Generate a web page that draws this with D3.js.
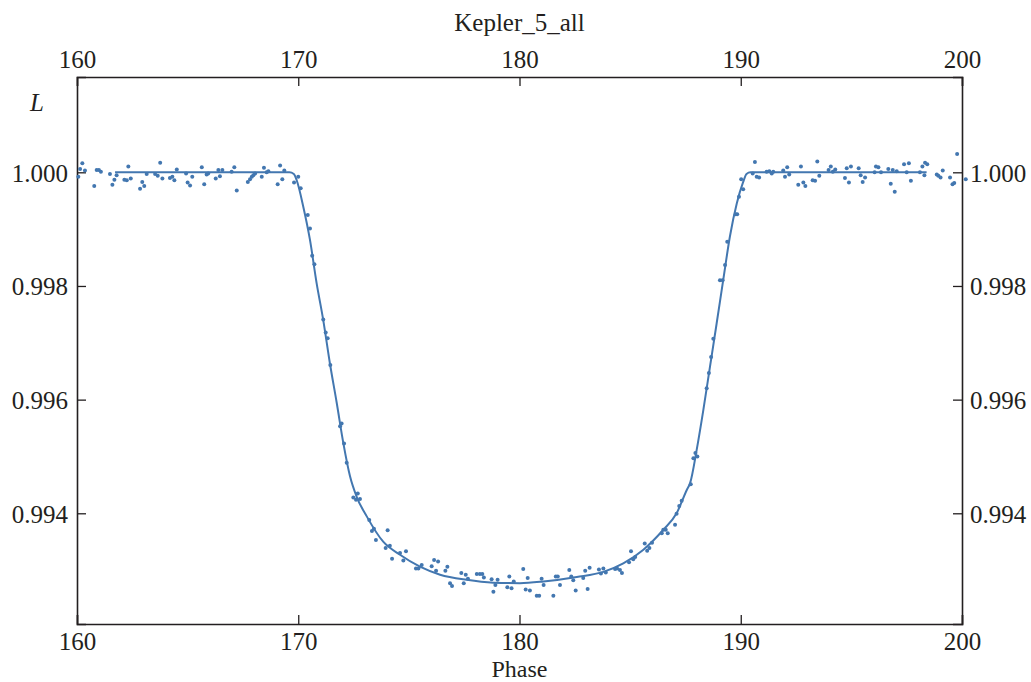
<!DOCTYPE html>
<html>
<head>
<meta charset="utf-8">
<script src="https://cdn.jsdelivr.net/npm/d3@7"></script>
<style>
  body { margin: 0; background: #fff; }
  text { font-family: "Liberation Serif", "Times New Roman", serif; fill: #231f20; }
</style>
</head>
<body>
<div id="graph"></div>
<script>
// observed light curve points [phase, L]
var obsPoints = [
  [160.06,0.99992],[160.14,1.00006],[160.24,1.00016],[160.36,1.00003],[160.78,0.99976],[160.89,1.00004],
  [160.99,1.00004],[161.08,1.00001],[161.49,0.99997],[161.60,0.99978],[161.69,0.99987],[161.79,0.99995],
  [162.14,0.99987],[162.25,0.99986],[162.32,1.00010],[162.43,0.99989],[162.85,0.99971],[162.95,0.99983],
  [163.04,0.99976],[163.15,0.99997],[163.53,0.99997],[163.65,0.99994],[163.76,1.00017],[163.86,0.99989],
  [164.20,0.99990],[164.31,0.99992],[164.40,0.99986],[164.51,1.00005],[164.93,0.99998],[165.00,0.99982],
  [165.11,0.99977],[165.21,0.99992],[165.64,1.00009],[165.75,0.99979],[165.86,0.99996],[165.93,0.99998],
  [166.27,0.99989],[166.39,1.00004],[166.46,0.99993],[166.57,1.00004],[166.99,1.00001],[167.11,1.00009],
  [167.22,0.99968],[167.72,0.99983],[167.82,0.99988],[167.90,0.99992],[167.97,0.99995],[168.05,0.99998],
  [168.35,0.99992],[168.45,1.00008],[168.57,1.00000],[168.65,1.00002],[169.07,0.99979],[169.18,1.00012],
  [169.28,0.99988],[169.37,1.00003],[169.81,0.99982],[170.00,0.99992],[170.11,0.99972],[170.43,0.99925],
  [170.53,0.99901],[170.63,0.99853],[170.73,0.99838],[171.13,0.99741],[171.24,0.99718],[171.33,0.99708],
  [171.45,0.99661],[171.89,0.99553],[171.96,0.99558],[172.07,0.99523],[172.19,0.99489],[172.49,0.99428],
  [172.69,0.99435],[172.61,0.99424],[172.79,0.99425],[173.21,0.99388],[173.33,0.99369],[173.42,0.99373],
  [173.51,0.99353],[174.04,0.99370],[173.95,0.99339],[174.14,0.99343],[174.24,0.99320],[174.60,0.99330],
  [174.75,0.99317],[174.87,0.99333],[175.32,0.99303],[175.43,0.99303],[175.58,0.99309],[176.03,0.99307],
  [176.14,0.99318],[176.32,0.99315],[176.23,0.99299],[176.65,0.99299],[176.74,0.99306],[176.86,0.99277],
  [176.95,0.99272],[177.37,0.99295],[177.57,0.99292],[177.48,0.99277],[177.67,0.99285],[178.07,0.99293],
  [178.21,0.99293],[178.32,0.99293],[178.39,0.99287],[178.74,0.99284],[179.01,0.99283],[178.91,0.99274],
  [178.82,0.99262],[179.54,0.99289],[179.74,0.99280],[179.45,0.99270],[179.64,0.99268],[180.17,0.99302],
  [180.37,0.99286],[180.28,0.99266],[180.47,0.99264],[180.78,0.99255],[180.89,0.99255],[181.00,0.99285],
  [181.09,0.99274],[181.53,0.99255],[181.64,0.99289],[181.73,0.99289],[181.83,0.99274],[182.25,0.99300],
  [182.34,0.99289],[182.43,0.99282],[182.54,0.99264],[182.88,0.99286],[182.97,0.99299],[183.08,0.99267],
  [183.17,0.99304],[183.59,0.99301],[183.68,0.99294],[183.79,0.99303],[183.90,0.99296],[184.32,0.99302],
  [184.41,0.99303],[184.54,0.99300],[184.63,0.99295],[184.95,0.99314],[185.04,0.99333],[185.14,0.99319],
  [185.23,0.99323],[185.66,0.99347],[185.77,0.99334],[185.87,0.99339],[185.99,0.99348],[186.43,0.99365],
  [186.50,0.99371],[186.61,0.99371],[186.70,0.99365],[187.03,0.99380],[187.10,0.99399],[187.22,0.99413],
  [187.33,0.99422],[187.74,0.99451],[187.86,0.99497],[187.95,0.99506],[188.04,0.99500],[188.46,0.99620],
  [188.56,0.99647],[188.66,0.99675],[188.76,0.99707],[189.06,0.99810],[189.18,0.99810],[189.29,0.99837],
  [189.39,0.99878],[189.77,0.99926],[189.84,0.99926],[189.92,0.99957],[190.02,0.99988],[190.11,0.99970],
  [190.64,1.00018],[190.54,0.99998],[190.72,0.99992],[190.83,0.99991],[191.17,1.00001],[191.29,1.00002],
  [191.40,0.99998],[191.47,1.00001],[191.92,1.00003],[192.00,0.99992],[192.10,1.00009],[192.19,0.99996],
  [192.60,0.99978],[192.72,1.00010],[192.83,0.99982],[192.92,0.99976],[193.25,0.99986],[193.36,0.99985],
  [193.46,1.00019],[193.55,0.99994],[193.97,1.00004],[194.07,1.00010],[194.16,1.00001],[194.27,1.00005],
  [194.71,0.99990],[194.79,1.00007],[194.89,0.99982],[194.98,1.00010],[195.33,1.00007],[195.42,0.99995],
  [195.51,0.99983],[195.62,0.99991],[196.05,1.00000],[196.11,1.00010],[196.22,1.00009],[196.34,1.00000],
  [196.67,1.00006],[196.78,0.99980],[196.87,1.00004],[196.96,0.99966],[197.05,1.00002],[197.38,1.00014],
  [197.50,1.00000],[197.60,1.00016],[197.69,0.99985],[198.10,1.00000],[198.21,1.00010],[198.30,0.99995],
  [198.33,1.00017],[198.43,1.00014],[198.86,0.99996],[198.93,0.99994],[199.03,0.99991],[199.13,1.00003],
  [199.46,0.99991],[199.57,0.99979],[199.65,0.99981],[199.78,1.00032],[200.17,0.99988]
]

// model curve
var modelPhase = [161.72,169.60,169.80,169.93,170.23,170.53,170.83,171.13,171.43,171.74,172.04,172.34,172.64,
                  173.09,173.84,174.60,175.50,176.41,177.61,178.82,180.02,181.08,182.59,183.79,184.69,
                  185.60,186.50,187.10,187.56,187.71,188.01,188.31,188.61,188.91,189.21,189.51,189.82,
                  190.11,190.26,190.44,198.40]
var modelL     = [1.00000,1.00000,0.99997,0.99986,0.99939,0.99881,0.99805,0.99740,0.99664,0.99594,0.99523,0.99465,0.99429,
                  0.99395,0.99350,0.99327,0.99306,0.99292,0.99283,0.99278,0.99277,0.99280,0.99288,0.99297,0.99312,
                  0.99336,0.99371,0.99400,0.99441,0.99453,0.99512,0.99582,0.99658,0.99734,0.99811,0.99887,0.99945,
                  0.99983,0.99997,1.00000,1.00000]

var xTicks      = [160, 170, 180, 190, 200]
var xMinorTicks = [162, 164, 166, 168, 172, 174, 176, 178, 182, 184, 186, 188, 192, 194, 196, 198]
var yTicks      = [0.994, 0.996, 0.998, 1.000]
var yMinorTicks = [0.9925, 0.993, 0.9935, 0.9945, 0.995, 0.9955, 0.9965, 0.997, 0.9975, 0.9985, 0.999, 0.9995, 1.0005, 1.001, 1.0015]

var title  = "Kepler_5_all"
var xLabel = "Phase"
var yLabel = "L"

var width = 1031, height = 682
var margin = {top: 77, left: 77, bottom: 58, right: 69}
var chartWidth  = width - margin.left - margin.right
var chartHeight = height - margin.top - margin.bottom
var color = "#4377b0"
var fontSize = "25px"

var svg = d3.select("#graph").append("svg")
            .attr("width", width)
            .attr("height", height)

var chartLayer = svg.append("g")
                    .attr("transform", "translate(" + [margin.left, margin.top] + ")")

var x = d3.scaleLinear().domain([160, 200]).range([0, chartWidth])
var y = d3.scaleLinear().domain([0.992052, 1.001677]).range([chartHeight, 0])

// axes, ticks pointing inward
function drawAxis(axisFn, scale, major, minor, transform, fmt) {
    var g = chartLayer.append("g").attr("transform", transform)
    g.call(axisFn(scale).tickValues(minor).tickSize(-5.5).tickFormat(""))
    g.call(axisFn(scale).tickValues(major).tickSize(-9).tickFormat(fmt))
    g.selectAll("path.domain").attr("stroke", "#231f20").attr("stroke-width", 1.6)
    g.selectAll(".tick line").attr("stroke", "#231f20").attr("stroke-width", 1.3)
    g.selectAll(".tick text")
     .attr("font-size", fontSize)
     .attr("font-family", "Liberation Serif, serif")
     .attr("fill", "#231f20")
    return g
}

var fmtX = d3.format("d")
var fmtY = d3.format(".3f")

var gBottom = drawAxis(d3.axisBottom, x, xTicks, xMinorTicks, "translate(0," + chartHeight + ")", fmtX)
gBottom.selectAll(".tick text").attr("y", 26).attr("dy", 0)
var gTop = drawAxis(d3.axisTop, x, xTicks, xMinorTicks, "translate(0,0)", fmtX)
gTop.selectAll(".tick text").attr("y", -9).attr("dy", 0)
var gLeft = drawAxis(d3.axisLeft, y, yTicks, yMinorTicks, "translate(0,0)", fmtY)
gLeft.selectAll(".tick text").attr("x", -9).attr("dy", "0.36em")
var gRight = drawAxis(d3.axisRight, y, yTicks, yMinorTicks, "translate(" + chartWidth + ",0)", fmtY)
gRight.selectAll(".tick text").attr("x", 8).attr("dy", "0.36em")

// model line
var line = d3.line()
             .curve(d3.curveMonotoneX)
             .x(function(d, i) { return x(modelPhase[i]) })
             .y(function(d, i) { return y(modelL[i]) })

chartLayer.append("path")
          .datum(modelPhase)
          .attr("d", line)
          .attr("fill", "none")
          .attr("stroke", color)
          .attr("stroke-width", 2)

// observations
chartLayer.selectAll(".obs")
          .data(obsPoints)
          .enter()
          .append("circle")
          .classed("obs", true)
          .attr("cx", function(d) { return x(d[0]) })
          .attr("cy", function(d) { return y(d[1]) })
          .attr("r", 2)
          .attr("fill", color)

// labels
svg.append("text")
   .attr("x", margin.left + chartWidth / 2)
   .attr("y", 31)
   .attr("text-anchor", "middle")
   .attr("font-size", fontSize)
   .text(title)

svg.append("text")
   .attr("x", margin.left + chartWidth / 2)
   .attr("y", 676.5)
   .attr("text-anchor", "middle")
   .attr("font-size", "24px")
   .text(xLabel)

svg.append("text")
   .attr("x", 37)
   .attr("y", 111)
   .attr("text-anchor", "middle")
   .attr("font-size", fontSize)
   .attr("font-style", "italic")
   .text(yLabel)
</script>
</body>
</html>
